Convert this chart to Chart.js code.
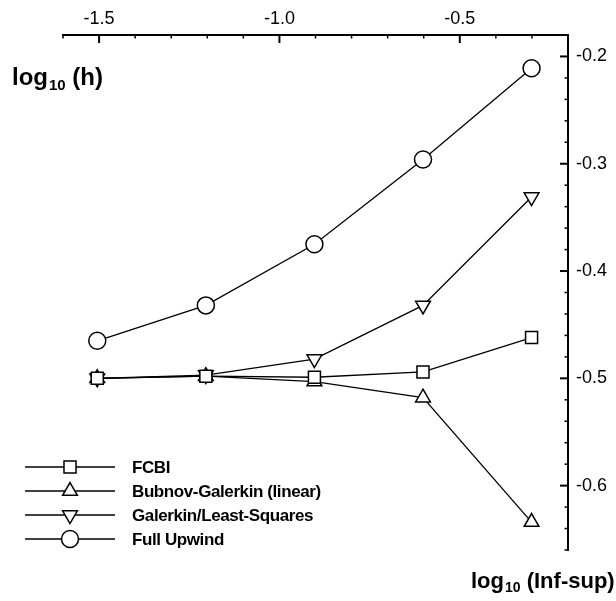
<!DOCTYPE html>
<html><head><meta charset="utf-8">
<script src="https://cdn.jsdelivr.net/npm/chart.js@4.4.0/dist/chart.umd.min.js"></script>
<style>html,body{margin:0;padding:0;background:#fff}#wrap{width:616px;height:601px;position:relative}</style>
</head><body><div id="wrap"><canvas id="c" width="616" height="601"></canvas></div>
<script>
// x = log10(h), y = log10(Inf-sup)
const logH = [-1.505, -1.204, -0.903, -0.602, -0.301];
const fcbi = [-0.500, -0.498, -0.499, -0.494, -0.462];
const bubnov = [-0.500, -0.498, -0.503, -0.518, -0.634];
const gls = [-0.500, -0.497, -0.482, -0.432, -0.331];
const upwind = [-0.465, -0.432, -0.375, -0.296, -0.211];
const seriesNames = ['FCBI', 'Bubnov-Galerkin (linear)', 'Galerkin/Least-Squares', 'Full Upwind'];
const xMajorTicks = [-1.5, -1.0, -0.5];
const xMinorTicks = [-1.6, -1.4, -1.3, -1.2, -1.1, -0.9, -0.8, -0.7, -0.6, -0.4, -0.3, -0.2];
const yMajorTicks = [-0.2, -0.3, -0.4, -0.5, -0.6];
const yMinorTicks = [-0.22, -0.24, -0.26, -0.28, -0.32, -0.34, -0.36, -0.38, -0.42, -0.44, -0.46, -0.48, -0.52, -0.54, -0.56, -0.58, -0.62, -0.64, -0.66];

const FONT = "'Liberation Sans', Arial, Helvetica, sans-serif";
const styles = [
  {pointStyle: 'rect', rotation: 0, radius: 8.5},
  {pointStyle: 'triangle', rotation: 0, radius: 8.5},
  {pointStyle: 'triangle', rotation: 180, radius: 8.5},
  {pointStyle: 'circle', rotation: 0, radius: 8.5}
];
const seriesValues = [fcbi, bubnov, gls, upwind];

const datasets = seriesValues.map((vals, i) => ({
  label: seriesNames[i],
  data: logH.map((x, j) => ({x: x, y: vals[j]})),
  showLine: true,
  borderColor: '#000',
  borderWidth: 1.3,
  backgroundColor: '#fff',
  pointStyle: styles[i].pointStyle,
  pointRotation: styles[i].rotation,
  pointRadius: styles[i].radius,
  pointBorderWidth: 1.5,
  pointBorderColor: '#000',
  pointBackgroundColor: '#fff',
  tension: 0
}));

function line(ctx, x1, y1, x2, y2, w) {
  ctx.lineWidth = w; ctx.beginPath(); ctx.moveTo(x1, y1); ctx.lineTo(x2, y2); ctx.stroke();
}

function drawLogLabel(ctx, x, y, rest, size) {
  ctx.fillStyle = '#000';
  ctx.textBaseline = 'alphabetic';
  ctx.textAlign = 'left';
  ctx.font = 'bold ' + size + 'px ' + FONT;
  ctx.fillText('log', x, y);
  let w = ctx.measureText('log').width;
  ctx.font = 'bold ' + Math.round(size * 0.62) + 'px ' + FONT;
  ctx.fillText('10', x + w + 1, y + size * 0.2);
  w += ctx.measureText('10').width + 1;
  ctx.font = 'bold ' + size + 'px ' + FONT;
  ctx.fillText(rest, x + w, y);
  return w + ctx.measureText(rest).width;
}

const decor = {
  id: 'decor',
  afterDraw(chart) {
    const ctx = chart.ctx;
    const xs = chart.scales.x, ys = chart.scales.y;
    const top = chart.chartArea.top, right = chart.chartArea.right;
    ctx.save();
    ctx.strokeStyle = '#000';
    xMajorTicks.forEach(v => { const p = xs.getPixelForValue(v); line(ctx, p, top, p, top + 8, 2); });
    xMinorTicks.forEach(v => { const p = xs.getPixelForValue(v); line(ctx, p, top, p, top + 3.5, 1.5); });
    yMajorTicks.forEach(v => { const p = ys.getPixelForValue(v); line(ctx, right, p, right - 8, p, 2); });
    yMinorTicks.forEach(v => { const p = ys.getPixelForValue(v); line(ctx, right, p, right - 3.5, p, 1.5); });

    // legend
    const rowsY = [467, 491, 515, 539];
    chart.data.datasets.forEach((ds, i) => {
      const y = rowsY[i];
      ctx.strokeStyle = '#000';
      line(ctx, 25, y, 115, y, 1.3);
      ctx.fillStyle = '#fff';
      ctx.strokeStyle = '#000';
      ctx.lineWidth = 1.5;
      Chart.helpers.drawPoint(ctx, {pointStyle: ds.pointStyle, rotation: ds.pointRotation, radius: ds.pointRadius, borderWidth: 1.5}, 70, y);
      ctx.fillStyle = '#000';
      ctx.font = 'bold 17px ' + FONT;
      ctx.textBaseline = 'middle';
      ctx.textAlign = 'left';
      ctx.letterSpacing = '-0.4px';
      ctx.fillText(ds.label, 132, y + 1);
      ctx.letterSpacing = '0px';
    });

    // axis labels
    drawLogLabel(ctx, 12, 85, ' (h)', 24);
    drawLogLabel(ctx, 471, 588, ' (Inf-sup)', 22);
    ctx.restore();
  }
};

new Chart(document.getElementById('c'), {
  type: 'scatter',
  data: {datasets: datasets},
  options: {
    responsive: false,
    animation: false,
    layout: {padding: {left: 63, right: 0, top: 0, bottom: 51}},
    plugins: {legend: {display: false}, tooltip: {enabled: false}},
    scales: {
      x: {
        type: 'linear', position: 'top', min: -1.6, max: -0.2,
        afterBuildTicks: s => { s.ticks = xMajorTicks.map(v => ({value: v})); },
        afterFit: s => { s.height = 35; },
        grid: {display: true, drawOnChartArea: false, drawTicks: false},
        border: {display: true, color: '#000', width: 2},
        ticks: {padding: 5, color: '#000', font: {family: FONT, size: 18}, maxRotation: 0,
          callback: v => v.toFixed(1)}
      },
      y: {
        type: 'linear', position: 'right', min: -0.66, max: -0.18,
        afterBuildTicks: s => { s.ticks = yMajorTicks.map(v => ({value: v})); },
        afterFit: s => { s.width = 48; },
        grid: {display: true, drawOnChartArea: false, drawTicks: false},
        border: {display: true, color: '#000', width: 2},
        ticks: {padding: 8, color: '#000', font: {family: FONT, size: 18},
          callback: v => v.toFixed(1)}
      }
    }
  },
  plugins: [decor]
});
</script>
</body></html>
